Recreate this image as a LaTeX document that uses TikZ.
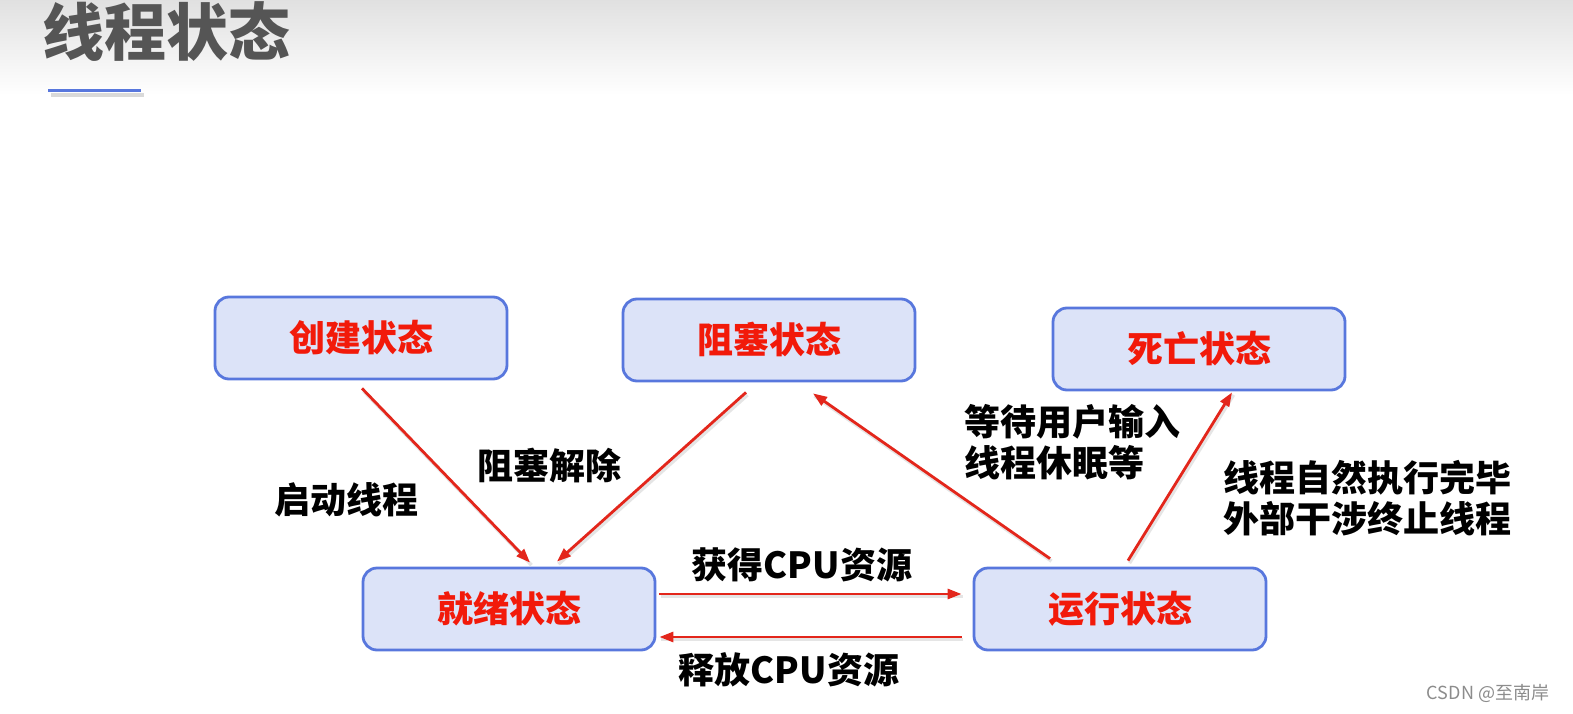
\documentclass[tikz,border=0pt]{standalone}
\usepackage{fontspec}
\newfontfamily\cjk{Noto Sans CJK SC}
\usetikzlibrary{arrows.meta,calc}
\definecolor{boxfill}{HTML}{DCE3F8}
\definecolor{boxline}{HTML}{5877DD}
\definecolor{arr}{HTML}{E3261B}
\definecolor{txtred}{HTML}{F21A0A}
\definecolor{titlegray}{HTML}{555555}
\begin{document}
\begin{tikzpicture}[x=1pt,y=-1pt,
  statebox/.style={draw=boxline, line width=2.8pt, fill=boxfill, rounded corners=14pt,
    minimum width=292pt, minimum height=82pt, inner sep=0pt,
    font=\cjk\bfseries\fontsize{36}{40}\selectfont, text=txtred},
  lbl/.style={inner sep=0pt, font=\cjk\bfseries\fontsize{36}{41}\selectfont, text=black, align=left},
  flow/.style={draw=arr, line width=2.8pt, -{Triangle[length=14pt,width=10pt]}},
  flowshadow/.style={draw=black!10, line width=3.5pt}
]
\useasboundingbox (0,0) rectangle (1573,714);
\fill[white] (0,0) rectangle (1573,714);
\shade[top color=black!12, bottom color=white] (0,0) rectangle (1573,95);

% title
\node[inner sep=0pt, text=titlegray, font=\cjk\bfseries\fontsize{62}{62}\selectfont] (title) at (166,32) {线程状态};
\coordinate (ulA) at (48,91);
\coordinate (ulB) at (141,91);
\draw[black!15, line width=3.5pt] ($(ulA)+(3,4)$) -- ($(ulB)+(3,4)$);
\draw[boxline, line width=3pt] (ulA) -- (ulB);

% states
\node[statebox] (cj) at (361,338) {创建状态};
\node[statebox] (zs) at (769,340) {阻塞状态};
\node[statebox] (sw) at (1199,349) {死亡状态};
\node[statebox] (jx) at (509,609) {就绪状态};
\node[statebox] (yx) at (1120,609) {运行状态};

% endpoints
\coordinate (a1s) at ($(cj.south)+(1,8)$);
\coordinate (a1e) at ($(jx.north)+(21,-4)$);
\coordinate (a2s) at ($(zs.south)+(-23,10)$);
\coordinate (a2e) at ($(jx.north)+(48,-5)$);
\coordinate (a3s) at ($(jx.east)+(3,-15)$);
\coordinate (a3e) at ($(yx.west)+(-11,-15)$);
\coordinate (a4s) at ($(yx.west)+(-11,28)$);
\coordinate (a4e) at ($(jx.east)+(3,28)$);
\coordinate (a5s) at ($(yx.north)+(-70,-8)$);
\coordinate (a5e) at ($(zs.south)+(44,11)$);
\coordinate (a6s) at ($(yx.north)+(8,-6)$);
\coordinate (a6e) at ($(sw.south)+(33,1)$);

% shadows
\foreach \s/\e in {a1s/a1e,a2s/a2e,a3s/a3e,a4s/a4e,a5s/a5e,a6s/a6e}
  \draw[flowshadow] ($(\s)+(1.5,2.5)$) -- ($(\e)+(1.5,2.5)$);

% arrows
\draw[flow] (a1s) -- (a1e);
\draw[flow] (a2s) -- (a2e);
\draw[flow] (a3s) -- (a3e);
\draw[flow] (a4s) -- (a4e);
\draw[flow] (a5s) -- (a5e);
\draw[flow] (a6s) -- (a6e);

% labels
\node[lbl] (l1) at (346,500) {启动线程};
\node[lbl] (l2) at (549,466) {阻塞解除};
\node[lbl] (l3) at (802,565) {获得CPU资源};
\node[lbl] (l4) at (789,670) {释放CPU资源};
\node[lbl] (l5) at (1072,442) {等待用户输入\\线程休眠等};
\node[lbl] (l6) at (1367,498) {线程自然执行完毕\\外部干涉终止线程};

% watermark
\node[inner sep=0pt, text=black!45, font=\cjk\fontsize{18}{18}\selectfont] (wm) at (1488,693) {CSDN @至南岸};
\end{tikzpicture}
\end{document}
